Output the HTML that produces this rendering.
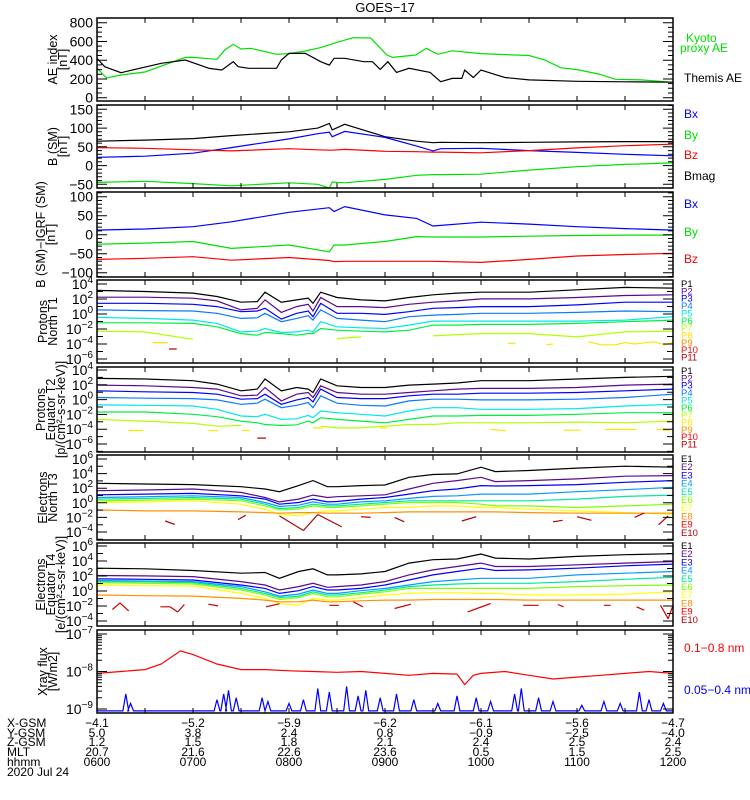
<!DOCTYPE html>
<html><head><meta charset="utf-8">
<style>
html,body{margin:0;padding:0;background:#fff;}
svg{display:block;font-family:"Liberation Sans",sans-serif;}
</style></head>
<body>
<svg id="chart" width="750" height="800" viewBox="0 0 750 800" xmlns="http://www.w3.org/2000/svg">
<rect x="0" y="0" width="750" height="800" fill="#fff"/>
<text x="385" y="12" font-size="13" text-anchor="middle">GOES−17</text>
<g id="layer"></g>
</svg>
<script>
// ---------- DATA ----------
const aeKyotoT=[6,6.1,6.25,6.5,6.75,6.92,7.0,7.25,7.33,7.42,7.5,7.6,7.87,8.0,8.17,8.33,8.5,8.67,8.85,9.02,9.08,9.32,9.43,9.55,9.7,10,10.25,10.5,10.67,10.83,11,11.23,11.4,11.67,12];
const aeKyoto=[316,210,242,274,367,430,430,410,509,570,520,527,463,470,498,534,591,640,637,455,430,455,527,463,500,470,460,450,400,320,300,252,196,190,164];
const aeThemisT=[6,6.08,6.25,6.67,6.92,7.17,7.3,7.42,7.47,7.58,7.87,7.92,8.0,8.17,8.33,8.42,8.47,8.58,8.78,8.87,8.95,9.03,9.12,9.25,9.47,9.58,9.7,9.8,9.83,9.92,10,10.17,10.25,10.5,11,11.5,12];
const aeThemis=[420,331,267,367,402,313,295,384,331,314,314,402,473,473,384,348,420,420,384,384,302,384,270,314,270,171,206,206,295,215,295,240,215,190,175,170,165];

const magT=[6,6.5,7,7.4,8,8.3,8.42,8.45,8.58,9,9.33,9.5,9.58,10,10.5,11,11.5,12];
const bmag=[65,68,72,80,90,100,112,95,110,77,65,61,62,61,62,63,64,64];
const bx=[22,25,33,48,71,85,89,77,91,75,52,39,45,46,40,35,30,26];
const bz=[48,46,42,39,45,42,41,41,43,38,37,36,36,34,40,47,53,57];
const by=[-45,-42,-48,-54,-46,-50,-60,-44,-46,-37,-26,-24,-24,-23,-12,-3,3,7];

const dT=[6,6.5,7,7.4,8,8.42,8.47,8.58,9,9.33,9.5,10,10.5,11,11.5,12];
const dBx=[12,15,21,34,59,71,61,74,52,43,23,33,28,21,16,12];
const dBy=[-25,-22,-18,-36,-27,-45,-27,-27,-18,-5,-6,-6,-4,-2,-1,-1];
const dBz=[-65,-62,-58,-67,-60,-68,-71,-70,-70,-70,-70,-73,-65,-56,-52,-49];

// protons (log10 flux)
const pT=[6,6.5,7,7.25,7.5,7.67,7.75,7.92,8.08,8.2,8.25,8.33,8.5,8.75,9,9.25,9.5,9.75,10,10.5,11,11.5,12];
const n1P1=[3.14,3.0,2.78,2.33,1.57,1.66,2.91,1.57,1.88,2.11,1.43,2.91,2.2,1.88,1.75,2.2,2.56,2.78,2.91,2.91,3.23,3.54,3.45];
const n1P2=[2.24,2.24,2.11,1.75,0.54,0.76,1.88,0.22,0.98,1.3,0.4,2.2,0.98,0.98,0.85,1.3,1.57,1.75,2.02,2.02,2.2,2.47,2.56];
const n1P3=[1.43,1.43,1.3,0.98,0.31,0.4,0.76,-0.68,0.09,0.4,-0.36,1.43,0.09,0.09,-0.05,0.31,0.76,0.85,0.98,0.98,1.21,1.57,1.57];
const n1P4=[0.54,0.45,0.4,0.09,-0.59,-0.5,0.09,-1.03,-0.59,-0.23,-0.81,0.54,-0.59,-0.81,-1.03,-0.36,-0.14,-0.05,0.09,0.09,0.22,0.4,0.31];
const n1P5=[-0.45,-0.59,-0.81,-1.26,-2.38,-2.29,-1.93,-2.47,-2.38,-2.16,-2.38,-1.03,-1.71,-1.84,-1.93,-1.48,-0.95,-0.95,-0.95,-0.95,-0.95,-0.81,-0.36];
const n1P6=[-1.17,-1.17,-1.26,-1.71,-2.61,-2.83,-2.47,-2.61,-2.83,-2.61,-2.61,-1.93,-2.16,-2.29,-2.38,-2.16,-1.48,-1.48,-1.39,-1.39,-1.26,-1.03,-0.81];
const n1P7=[-2.29,-2.38,-3.37,null,null,null,null,null,null,null,null,null,-3.28,-3.05,null,null,-2.92,-2.74,-2.61,-2.61,-3.05,-2.38,-2.29];
const n1P8seg=[[6.58,-3.82,6.74,-3.82],[10.28,-3.9,10.36,-3.9],[10.68,-4.1,10.75,-4.0],[11.12,-3.7,11.25,-4.1],[11.25,-4.1,11.4,-4.1],[11.4,-4.1,11.5,-3.8],[11.5,-3.8,11.6,-4.0],[11.6,-4.0,11.8,-3.7],[11.8,-3.7,11.92,-4.1],[11.92,-4.1,12,-3.8]];
const n1P11seg=[[6.75,-4.67,6.83,-4.67]];

const e2P1=[2.87,2.78,2.55,2.1,1.19,1.42,2.78,1.19,1.64,1.42,0.96,2.78,1.87,1.64,1.64,1.96,2.1,2.24,2.55,2.55,2.78,3.0,3.15];
const e2P2=[1.96,1.87,1.64,1.42,0.51,0.6,1.64,-0.18,0.73,0.96,0.28,1.87,0.96,0.73,0.73,0.96,1.19,1.42,1.51,1.51,1.64,1.96,2.1];
const e2P3=[1.19,1.05,0.96,0.73,0.05,0.14,0.73,-0.63,-0.04,0.28,-0.31,1.42,0.28,0.14,0.14,0.51,0.73,0.73,0.87,0.87,0.96,1.19,1.42];
const e2P4=[0.28,0.19,0.14,-0.04,-0.63,-0.49,0.05,-1.09,-0.77,-0.4,-1.09,0.51,-0.49,-0.77,-0.86,-0.18,0.05,0.05,-0.04,-0.04,0.05,0.28,0.73];
const e2P5=[-0.72,-0.77,-0.86,-1.31,-2.22,-2.31,-1.99,-2.68,-2.59,-2.13,-2.45,-1.54,-1.77,-1.99,-2.22,-1.54,-1.09,-1.09,-1.31,-1.31,-1.22,-0.86,-0.63];
const e2P6=[-1.68,-1.68,-1.99,-2.31,-2.9,-3.13,-3.36,-3.5,-3.41,-2.9,-3.13,-2.45,-2.68,-2.9,-3.13,-2.68,-2.22,-2.22,-2.13,-2.13,-1.99,-1.77,-1.77];
const e2P7=[-2.68,-2.9,-3.22,-3.59,-3.5,null,null,null,null,null,null,-3.59,-3.82,-3.82,-3.59,-3.36,-3.36,-3.13,-3.13,-3.13,-3.04,-3.13,-2.9];
const e2P8seg=[[6.33,-4.18,6.48,-4.18],[7.16,-4.18,7.26,-4.18],[7.51,-4.18,7.59,-4.18],[8.25,-3.82,8.35,-3.82],[8.95,-3.82,9.02,-3.82],[10.1,-4.04,10.26,-4.2],[10.86,-4.13,11.04,-4.13],[11.29,-4.04,11.62,-4.04],[11.83,-4.0,11.97,-4.2]];
const e2P11seg=[[7.67,-5.2,7.76,-5.2]];

// electrons (log10 flux)
const eT=[6,6.5,7,7.5,7.75,7.9,8.1,8.25,8.4,8.5,8.75,9,9.25,9.5,9.75,10,10.15,10.5,11,11.5,12];
const n3E1=[2.67,2.58,2.49,2.21,1.89,1.52,2.35,3.04,2.21,2.21,2.35,2.44,3.5,3.87,3.96,4.88,4.28,4.42,4.75,5.02,4.88];
const n3E2=[1.66,1.75,1.89,1.42,0.73,0.13,0.5,1.06,0.73,0.83,0.96,1.1,1.89,2.67,3.04,3.5,2.9,3.04,3.27,3.64,3.73];
const n3E3=[1.1,1.19,1.29,0.96,0.5,-0.19,0.04,0.5,0.13,0.18,0.5,0.73,1.19,1.66,1.89,2.35,2.3,2.35,2.49,2.81,3.04];
const n3E4=[0.73,0.83,0.96,0.73,0.04,-0.51,-0.33,0.13,-0.19,-0.19,0.13,0.27,0.6,0.87,0.96,1.19,1.19,1.19,1.52,1.79,2.12];
const n3E5=[0.5,0.6,0.73,0.5,-0.19,-0.79,-0.65,-0.19,-0.42,-0.42,-0.19,0.04,0.27,0.27,0.27,0.27,0.27,0.27,0.5,0.87,1.06];
const n3E6=[0.27,0.36,0.5,0.27,-0.42,-0.97,-0.88,-0.42,-0.65,-0.65,-0.42,-0.19,0.04,0.04,0.04,-0.19,-0.42,-0.42,-0.65,-0.42,-0.19];
const n3E7=[0.04,0.13,0.27,-0.19,-0.88,-1.57,-1.8,-1.34,-1.11,-1.11,-0.88,-0.65,-0.65,-0.42,-0.42,-0.65,-0.65,-0.88,-1.11,-1.34,-1.57];
const n3E8=[-0.97,-1.11,-1.11,-1.25,-1.34,-1.43,-1.34,-1.34,-1.43,-1.43,-1.43,-1.34,-1.25,-1.25,-1.25,-1.25,-1.25,-1.34,-1.43,-1.43,-1.43];
const n3E10seg=[[6.71,-2.5,6.81,-2.96],[7.47,-2.3,7.55,-1.7],[7.9,-1.8,8.15,-3.8],[8.15,-3.8,8.3,-1.6],[8.3,-1.6,8.55,-3.3],[8.75,-1.9,8.85,-2.0],[9.1,-2.0,9.2,-2.6],[9.8,-2.5,9.95,-1.9],[10.75,-2.6,10.85,-2.4],[11.0,-1.9,11.15,-2.4],[11.6,-2.0,11.7,-1.4],[11.85,-3.0,11.95,-1.8]];

const e4E1=[3.04,2.96,2.73,2.37,2.46,1.7,2.6,2.96,2.15,2.15,2.28,2.6,3.72,4.17,4.26,4.93,4.39,4.26,4.62,4.84,4.97];
const e4E2=[2.06,2.01,1.92,1.25,0.8,0.13,0.58,1.03,0.49,0.58,0.8,1.25,2.15,2.82,3.27,3.72,3.27,3.27,3.49,3.72,3.94];
const e4E3=[1.61,1.56,1.47,0.8,0.35,-0.32,0.04,0.58,0.13,0.13,0.35,0.8,1.47,2.15,2.6,3.04,2.73,2.82,3.04,3.36,3.58];
const e4E4=[1.38,1.34,1.25,0.58,-0.1,-0.68,-0.41,0.13,-0.32,-0.32,0.04,0.35,0.8,1.25,1.47,1.7,1.7,1.7,2.15,2.37,2.6];
const e4E5=[1.25,1.21,1.12,0.35,-0.32,-0.86,-0.68,-0.1,-0.54,-0.54,-0.23,0.13,0.58,0.8,0.94,1.03,1.03,1.03,1.25,1.56,1.83];
const e4E6=[1.12,1.03,0.94,0.13,-0.54,-1.13,-0.86,-0.32,-0.77,-0.77,-0.41,-0.1,0.35,0.35,0.35,0.35,0.35,0.35,0.58,0.71,0.8];
const e4E7=[0.8,0.71,0.67,-0.32,-0.99,-1.67,-1.89,-0.99,-1.22,-1.22,-0.86,-0.54,-0.32,-0.23,-0.23,-0.32,-0.32,-0.54,-0.54,-0.41,-0.1];
const e4E8=[-0.54,-0.63,-0.68,-0.99,-1.22,-1.44,-1.44,-1.22,-1.44,-1.44,-1.31,-1.22,-1.22,-1.13,-1.13,-1.13,-1.13,-1.22,-1.22,-1.22,-1.22];
const e4E9seg=[[6.16,-2.47,6.24,-1.58],[6.24,-1.58,6.33,-2.65],[6.66,-2.1,6.76,-2.1],[6.76,-2.1,6.84,-2.8],[6.84,-2.8,6.91,-1.8],[7.16,-1.76,7.26,-1.98],[7.76,-2.1,7.9,-1.7],[8.42,-1.9,8.52,-1.9],[8.67,-1.44,8.77,-2.1],[9.1,-2.34,9.27,-1.76],[9.86,-2.79,10.1,-1.67],[10.44,-1.9,10.6,-1.9],[10.8,-1.8,10.86,-2.1],[11.28,-1.9,11.35,-1.9],[11.62,-2.1,11.7,-2.56],[11.87,-1.89,11.95,-3.7],[11.95,-3.7,12.0,-1.89]];

// X-ray (log10 W/m2)
const xrT=[6,6.25,6.5,6.67,6.87,7,7.25,7.5,7.75,8,8.25,8.5,8.75,9,9.25,9.5,9.75,9.83,9.92,10,10.25,10.5,10.75,11,11.25,11.5,11.75,12];
const xrLong=[-8.05,-8.0,-7.95,-7.8,-7.45,-7.55,-7.8,-7.95,-7.95,-7.98,-8.0,-8.02,-8.0,-8.05,-8.1,-8.05,-8.07,-8.35,-8.1,-8.05,-8.0,-8.1,-8.2,-8.15,-8.1,-8.05,-8.0,-8.05];
const xsSpikeT=[6.3,6.35,7.25,7.32,7.37,7.45,7.72,7.78,8.0,8.15,8.3,8.42,8.6,8.72,8.8,8.95,9.12,9.3,9.55,9.75,9.95,10.1,10.35,10.42,10.6,10.75,11.05,11.28,11.45,11.65,11.75,11.9];
const xsSpikeV=[-8.6,-8.85,-8.75,-8.6,-8.5,-8.7,-8.7,-8.8,-8.85,-8.75,-8.45,-8.55,-8.4,-8.65,-8.5,-8.7,-8.6,-8.75,-8.85,-8.65,-8.7,-8.8,-8.6,-8.45,-8.7,-8.8,-8.9,-8.8,-8.85,-8.55,-8.75,-8.85];

// ephemeris
const ephHours=[6,7,8,9,10,11,12];
const xGsm=["−4.1","−5.2","−5.9","−6.2","−6.1","−5.6","−4.7"];
const yGsm=["5.0","3.8","2.4","0.8","−0.9","−2.5","−4.0"];
const zGsm=["1.2","1.5","1.8","2.1","2.4","2.5","2.4"];
const mltV=["20.7","21.6","22.6","23.6","0.5","1.5","2.5"];
const hhmm=["0600","0700","0800","0900","1000","1100","1200"];

// ---------- DRAW ----------
const NS="http://www.w3.org/2000/svg";
const layer=document.getElementById('layer');
const X0=97,X1=673;
function xs(t){return X0+(t-6)/6*(X1-X0);}
function mk(tag,attrs,parent){const e=document.createElementNS(NS,tag);for(const k in attrs)e.setAttribute(k,attrs[k]);(parent||layer).appendChild(e);return e;}
function lin(v1,y1,v2,y2){return v=>y1+(v-v1)*(y2-y1)/(v2-v1);}

const panels=[
 {id:'ae',top:18,bot:101,ys:lin(800,22.7,0,97.7)},
 {id:'bsm',top:105,bot:188,ys:lin(150,109.3,-50,184.3)},
 {id:'bdiff',top:192,bot:277,ys:lin(100,196.7,-100,272.7)},
 {id:'pn',top:280,bot:363,ys:lin(4,284,-6,359)},
 {id:'pe',top:367,bot:452,ys:lin(4,370,-6,444)},
 {id:'en',top:455,bot:540,ys:lin(6,459,-4,532)},
 {id:'ee',top:543,bot:626,ys:lin(6,546,-4,621)},
 {id:'xr',top:630,bot:713,ys:lin(-7,634,-9,709)}
];
const defs=mk('defs',{});
panels.forEach((p,i)=>{
  const cp=mk('clipPath',{id:'clip'+i},defs);
  mk('rect',{x:X0,y:p.top,width:X1-X0,height:p.bot-p.top},cp);
  p.g=mk('g',{'clip-path':'url(#clip'+i+')'});
  
  
});

function series(p,T,V,color,name){
  let d='',pen=false;
  for(let i=0;i<T.length;i++){
    if(V[i]===null||V[i]===undefined){pen=false;continue;}
    d+=(pen?'L':'M')+xs(T[i]).toFixed(1)+' '+p.ys(V[i]).toFixed(1)+' ';pen=true;
  }
  const el=mk('path',{d:d,fill:'none',stroke:color,'stroke-width':1.2},p.g);
  
  
}
function segs(p,S,color,name){
  let d='';
  S.forEach(s=>{d+='M'+xs(s[0]).toFixed(1)+' '+p.ys(s[1]).toFixed(1)+'L'+xs(s[2]).toFixed(1)+' '+p.ys(s[3]).toFixed(1)+' ';});
  const el=mk('path',{d:d,fill:'none',stroke:color,'stroke-width':1.2},p.g);
  
  
}

const pc=['#000000','#5a0a8c','#0000ff','#0a7aff','#00e8e8','#00f040','#b4ff00','#ffe600','#ff8c00','#ff0000','#b00000'];
const ec=['#000000','#5a0a8c','#0000ff','#0a9aff','#00e8a0','#80ff00','#ffff00','#ff9000','#ff0000','#b00000'];

// panel 1
series(panels[0],aeKyotoT,aeKyoto,'#00e000','kyoto-ae-line');
series(panels[0],aeThemisT,aeThemis,'#000','themis-ae-line');
// panel 2
series(panels[1],magT,bmag,'#000','bmag-line');
series(panels[1],magT,bx,'#0000ff','bx-line');
series(panels[1],magT,bz,'#ff0000','bz-line');
series(panels[1],magT,by,'#00e000','by-line');
// panel 3
series(panels[2],dT,dBx,'#0000ff','bx-igrf-line');
series(panels[2],dT,dBy,'#00e000','by-igrf-line');
series(panels[2],dT,dBz,'#ff0000','bz-igrf-line');
// panel 4
[n1P1,n1P2,n1P3,n1P4,n1P5,n1P6,n1P7].forEach((a,i)=>series(panels[3],pT,a,pc[i],'north-p'+(i+1)+'-line'));
segs(panels[3],n1P8seg,pc[7],'north-p8-fragments');
segs(panels[3],n1P11seg,pc[10],'north-p11-fragments');
// panel 5
[e2P1,e2P2,e2P3,e2P4,e2P5,e2P6,e2P7].forEach((a,i)=>series(panels[4],pT,a,pc[i],'equator-p'+(i+1)+'-line'));
segs(panels[4],e2P8seg,pc[7],'equator-p8-fragments');
segs(panels[4],e2P11seg,pc[10],'equator-p11-fragments');
// panel 6
[n3E1,n3E2,n3E3,n3E4,n3E5,n3E6,n3E7,n3E8].forEach((a,i)=>series(panels[5],eT,a,ec[i],'north-e'+(i+1)+'-line'));
segs(panels[5],n3E10seg,ec[9],'north-e10-fragments');
// panel 7
[e4E1,e4E2,e4E3,e4E4,e4E5,e4E6,e4E7,e4E8].forEach((a,i)=>series(panels[6],eT,a,ec[i],'equator-e'+(i+1)+'-line'));
segs(panels[6],e4E9seg,'#cc0000','equator-e9-fragments');
// panel 8
series(panels[7],xrT,xrLong,'#ff0000','xray-long-line');
(function(){
  const p=panels[7];const base=-9.05;let d='M'+X0+' '+p.ys(base);
  for(let i=0;i<xsSpikeT.length;i++){
    const t=xsSpikeT[i];
    d+=' L'+xs(t-0.03).toFixed(1)+' '+p.ys(base).toFixed(1)+' L'+xs(t).toFixed(1)+' '+p.ys(xsSpikeV[i]).toFixed(1)+' L'+xs(t+0.03).toFixed(1)+' '+p.ys(base).toFixed(1);
  }
  d+=' L'+X1+' '+p.ys(base);
  const el=mk('path',{d:d,fill:'none',stroke:'#0000ff','stroke-width':1.2},p.g);
  
  
})();

// axes frames + ticks
panels.forEach((p,i)=>{
  const fr=mk('rect',{x:X0,y:p.top,width:X1-X0,height:p.bot-p.top,fill:'none',stroke:'#000','stroke-width':1.5});
  
  
  let d='';
  for(let t=6;t<=12.001;t+=0.5){const x=xs(t).toFixed(1);d+='M'+x+' '+p.top+'v5M'+x+' '+p.bot+'v-5';}
  mk('path',{d:d,stroke:'#000','stroke-width':1});
});
function tickLabel(y,txt,sup,name){
  const t=mk('text',{x:93,y:y+5,'font-size':14,'text-anchor':'end'});
  
  
  if(sup!==undefined){
    t.textContent='10';
    const s=mk('tspan',{'font-size':10,dy:-6},t);s.textContent=sup;
  } else t.textContent=txt;
}
function ytick(p,v,len){const y=p.ys(v);if(y<p.top-0.5||y>p.bot+0.5)return '';return 'M'+X0+' '+y.toFixed(1)+'h'+len+'M'+X1+' '+y.toFixed(1)+'h-'+len;}
// linear panels
[[0,0,800,200,50],[1,-50,150,50,10],[2,-100,100,50,10]].forEach(c=>{
  const p=panels[c[0]];let d='';
  for(let v=c[1]-100;v<=c[2]+100;v+=c[4]){d+=ytick(p,v,((v-c[1])%c[3]===0)?10:5);}
  for(let v=c[1];v<=c[2];v+=c[3]){tickLabel(p.ys(v),String(v).replace('-','−'),undefined,p.id+'-ytick-'+v);}
  mk('path',{d:d,stroke:'#000','stroke-width':1});
});
// log panels
[[3,-6,4],[4,-6,4],[5,-4,6],[6,-4,6]].forEach(c=>{
  const p=panels[c[0]];let d='';
  for(let e=c[1]-1;e<=c[2]+1;e++){d+=ytick(p,e,((e-c[1])%2===0)?10:6);}
  for(let e=c[1];e<=c[2];e+=2){tickLabel(p.ys(e),null,String(e).replace('-','−'),p.id+'-ytick-'+e);}
  mk('path',{d:d,stroke:'#000','stroke-width':1});
});
(function(){
  const p=panels[7];let d='';
  for(let e=-9;e<-7;e++){for(let m=1;m<10;m++){const v=e+Math.log10(m);d+=ytick(p,v,m===1?10:5);}}
  d+=ytick(p,-7,10);
  mk('path',{d:d,stroke:'#000','stroke-width':1});
  [-7,-8,-9].forEach(e=>tickLabel(p.ys(e),null,String(e).replace('-','−'),'xr-ytick-'+e));
})();

// y-axis titles
function ytitle(p,lines,xsArr,name){
  const cy=(p.top+p.bot)/2;
  lines.forEach((l,i)=>{
    const t=mk('text',{x:xsArr[i],y:cy,'font-size':12.5,'text-anchor':'middle',transform:'rotate(-90 '+xsArr[i]+' '+cy+')'});
    
    
    t.textContent=l;
  });
}
ytitle(panels[0],['AE index','[nT]'],[57,67],'ae-axis-title');
ytitle(panels[1],['B (SM)','[nT]'],[57,67],'bsm-axis-title');
ytitle(panels[2],['B (SM)−IGRF (SM)','[nT]'],[45,55],'bdiff-axis-title');
ytitle(panels[3],['Protons','North T1'],[47,57],'pn-axis-title');
ytitle(panels[4],['Protons','Equator T2','[p/(cm²-s-sr-keV)]'],[45,55,65],'pe-axis-title');
ytitle(panels[5],['Electrons','North T3'],[47,57],'en-axis-title');
ytitle(panels[6],['Electrons','Equator T4','[e/(cm²-s-sr-keV)]'],[45,55,65],'ee-axis-title');
ytitle(panels[7],['Xray flux','[W/m2]'],[47,57],'xr-axis-title');

// legends
function leg(x,y,txt,color,size,name){
  const t=mk('text',{x:x,y:y,'font-size':size,fill:color});
  
  
  t.textContent=txt;
}
leg(686,42,'Kyoto','#00e000',12,'legend-kyoto');
leg(680,52,'proxy AE','#00e000',12,'legend-proxy-ae');
leg(684,82,'Themis AE','#000',12,'legend-themis-ae');
leg(684,118,'Bx','#0000ff',12,'legend-bx');
leg(684,139,'By','#00e000',12,'legend-by');
leg(684,159,'Bz','#ff0000',12,'legend-bz');
leg(684,180,'Bmag','#000',12,'legend-bmag');
leg(684,208,'Bx','#0000ff',12,'legend-bx-igrf');
leg(684,236,'By','#00e000',12,'legend-by-igrf');
leg(684,263,'Bz','#ff0000',12,'legend-bz-igrf');
for(let i=0;i<11;i++){
  leg(681,287+i*7.35,'P'+(i+1),pc[i],9.5,'legend-north-p'+(i+1));
  leg(681,374+i*7.35,'P'+(i+1),pc[i],9.5,'legend-equator-p'+(i+1));
}
for(let i=0;i<10;i++){
  leg(681,462+i*8.2,'E'+(i+1),ec[i],9.5,'legend-north-e'+(i+1));
  leg(681,549+i*8.2,'E'+(i+1),ec[i],9.5,'legend-equator-e'+(i+1));
}
leg(684,652,'0.1−0.8 nm','#ff0000',12,'legend-xray-long');
leg(684,694,'0.05−0.4 nm','#0000ff',12,'legend-xray-short');

// ephemeris table
const rows=[['X-GSM',xGsm,727],['Y-GSM',yGsm,737],['Z-GSM',zGsm,746],['MLT',mltV,756],['hhmm',hhmm,766]];
rows.forEach(r=>{
  leg(7,r[2],r[0],'#000',12,'ephem-label-'+r[0].toLowerCase());
  r[1].forEach((v,i)=>{
    const t=mk('text',{x:xs(ephHours[i]),y:r[2],'font-size':12,'text-anchor':'middle'});
    
    
    t.textContent=v;
  });
});
leg(7,776,'2020 Jul 24','#000',12,'date-label');
</script>
</body></html>
